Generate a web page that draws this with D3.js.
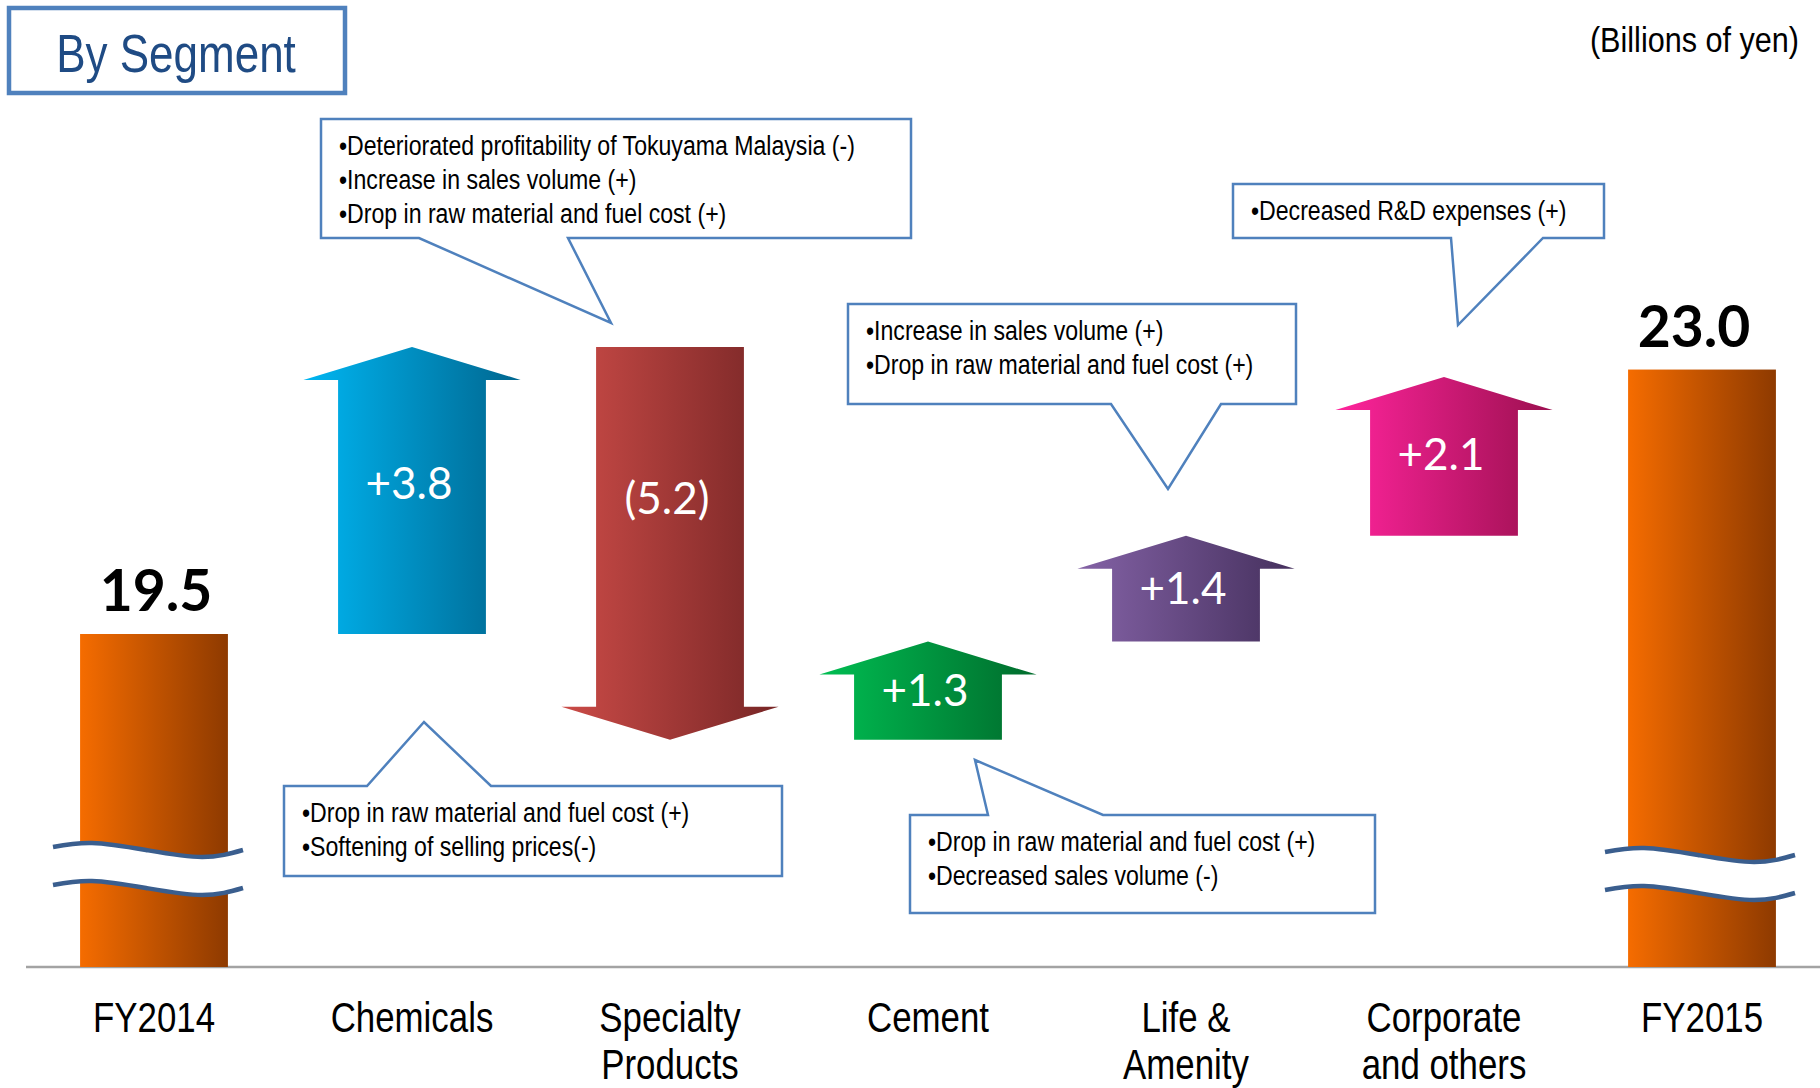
<!DOCTYPE html>
<html>
<head>
<meta charset="utf-8">
<script src="https://cdn.jsdelivr.net/npm/d3@7"></script>
<style>
  body { margin: 0; background: #fff; }
  .narrow { font-family: "Liberation Sans Narrow", "Arial Narrow", "Liberation Sans", Arial, sans-serif; }
  .calib { font-family: Lato, "Open Sans", sans-serif; }
</style>
</head>
<body>
<svg id="chart"></svg>
<script>
// Data
const categories = ['FY2014', 'Chemicals', 'Specialty Products', 'Cement', 'Life & Amenity', 'Corporate and others', 'FY2015'];
const categoryLines = [['FY2014'], ['Chemicals'], ['Specialty', 'Products'], ['Cement'], ['Life &', 'Amenity'], ['Corporate', 'and others'], ['FY2015']];
const startTotal = 19.5;
const endTotal = 23.0;
const deltas = [3.8, -5.2, 1.3, 1.4, 2.1];
const deltaLabels = ['+3.8', '(5.2)', '+1.3', '+1.4', '+2.1'];
const notes = [
    ['•Drop in raw material and fuel cost (+)', '•Softening of selling prices(-)'],
    ['•Deteriorated profitability of Tokuyama Malaysia (-)', '•Increase in sales volume (+)', '•Drop in raw material and fuel cost (+)'],
    ['•Drop in raw material and fuel cost (+)', '•Decreased sales volume (-)'],
    ['•Increase in sales volume (+)', '•Drop in raw material and fuel cost (+)'],
    ['•Decreased R&D expenses (+)']
];

// Styles
const arrowColors = [['#00B6F2', '#00668F'], ['#CB4B47', '#772626'], ['#00BE52', '#006B2C'], ['#8462A6', '#45305D'], ['#FF249C', '#9C1050']];
const totalColors = ['#F56C00', '#8E3A00'];

// Callout layout: box [x0, y0, x1, y1], pointer side, pointer base x's and tip
const calloutLayout = [
    { box: [284, 786, 782, 876], side: 'top', p: [367, 491], tip: [424, 722] },
    { box: [321, 119, 911, 238], side: 'bottom', p: [419, 568], tip: [611, 323] },
    { box: [910, 815, 1375, 913], side: 'top', p: [988, 1103], tip: [975, 760] },
    { box: [848, 304, 1296, 404], side: 'bottom', p: [1111, 1221], tip: [1168, 489] },
    { box: [1233, 184, 1604, 238], side: 'bottom', p: [1451, 1543], tip: [1458, 325] }
];

const width = 1820;
const height = 1088;
const baseY = 967;

const svg = d3.select('#chart')
    .attr('width', width)
    .attr('height', height);

const defs = svg.append('defs');

const x = d3.scalePoint().domain(categories).range([154, 1702]);
// broken axis: only the top of the range is drawn to scale
const y = d3.scaleLinear().domain([15, 24]).range([974, 294]);

const barW = x.step() * 0.573;
const headW = x.step() * 0.842;
const headH = 33;

// condensed text: the narrow font is not installed, so squeeze horizontally
function narrowText(parent, tx, sx, size) {
    return parent.append('g')
        .attr('transform', `translate(${tx},0) scale(${sx},1)`)
        .append('text')
        .attr('class', 'narrow')
        .attr('font-size', size);
}

// gradients
function addGradient(id, c) {
    const g = defs.append('linearGradient').attr('id', id)
        .attr('x1', 0).attr('x2', 1).attr('y1', 0).attr('y2', 0);
    g.append('stop').attr('offset', '0%').attr('stop-color', c[0]);
    g.append('stop').attr('offset', '100%').attr('stop-color', c[1]);
}
addGradient('g-total', totalColors);
arrowColors.forEach((c, i) => addGradient('g-arrow' + i, c));

// Build waterfall steps
let running = startTotal;
const steps = deltas.map((d, i) => {
    const s = { cat: categories[i + 1], start: running, end: running + d, label: deltaLabels[i], i: i };
    running += d;
    return s;
});

// Axis line
svg.append('line')
    .attr('x1', 26).attr('x2', width)
    .attr('y1', baseY).attr('y2', baseY)
    .attr('stroke', '#A3A3A3')
    .attr('stroke-width', 2.5);

// Total bars
const totals = [{ cat: categories[0], value: startTotal }, { cat: categories[6], value: endTotal }];
svg.selectAll('.total')
    .data(totals)
    .join('rect')
    .attr('class', 'total')
    .attr('x', d => x(d.cat) - barW / 2)
    .attr('width', barW)
    .attr('y', d => y(d.value))
    .attr('height', d => baseY - y(d.value))
    .attr('fill', 'url(#g-total)');

svg.selectAll('.total-label')
    .data(totals)
    .join('text')
    .attr('class', 'total-label calib')
    .attr('x', (d, i) => x(d.cat) + (i ? -8 : 2))
    .attr('y', d => y(d.value) - 23)
    .attr('text-anchor', 'middle')
    .attr('font-size', 57)
    .attr('font-weight', 'bold')
    .attr('fill', '#000')
    .text(d => d.value.toFixed(1));

// Break marks
const wave = [[-101, 0], [-62, -4], [-8, 3], [48, 10], [89, 3]];
const breakShift = [[0, 0], [4, 5]];
const breakTop = 847;
const breakGap = 38;
totals.forEach((d, i) => {
    const cx = x(d.cat) + breakShift[i][0];
    const top = breakTop + breakShift[i][1];
    const area = d3.area()
        .x(p => cx + p[0])
        .y0(p => top + p[1])
        .y1(p => top + breakGap + p[1])
        .curve(d3.curveNatural);
    svg.append('path').attr('d', area(wave)).attr('fill', '#fff');
    const line = d3.line().x(p => cx + p[0]).curve(d3.curveNatural);
    [0, breakGap].forEach(off => {
        svg.append('path')
            .attr('d', line.y(p => top + off + p[1])(wave))
            .attr('fill', 'none')
            .attr('stroke', '#3A5E8E')
            .attr('stroke-width', 4.5);
    });
});

// Arrows
function arrowPath(s) {
    const cx = x(s.cat), hs = barW / 2, hh = headW / 2;
    const y0 = y(s.start), y1 = y(s.end);
    const dir = s.end > s.start ? 1 : -1;
    const base = y1 + dir * headH;
    return `M${cx - hs},${y0} L${cx - hs},${base} L${cx - hh},${base} L${cx},${y1} L${cx + hh},${base} L${cx + hs},${base} L${cx + hs},${y0} Z`;
}

svg.selectAll('.arrow')
    .data(steps)
    .join('path')
    .attr('class', 'arrow')
    .attr('d', arrowPath)
    .attr('fill', d => `url(#g-arrow${d.i})`);

svg.selectAll('.arrow-label')
    .data(steps)
    .join('text')
    .attr('class', 'arrow-label calib')
    .attr('x', d => x(d.cat) - 3)
    .attr('y', d => {
        const y0 = y(d.start), y1 = y(d.end);
        const dir = d.end > d.start ? 1 : -1;
        const base = y1 + dir * headH;
        const len = Math.abs(y0 - base);
        return Math.min(y0, base) + 0.46 * len - 14;
    })
    .attr('dy', '0.36em')
    .attr('text-anchor', 'middle')
    .attr('font-size', 44)
    .attr('fill', '#fff')
    .text(d => d.label);

// Callouts
function calloutPath(c) {
    const [x0, y0, x1, y1] = c.box;
    if (c.side === 'bottom') {
        return `M${x0},${y0} H${x1} V${y1} H${c.p[1]} L${c.tip[0]},${c.tip[1]} L${c.p[0]},${y1} H${x0} Z`;
    }
    return `M${x0},${y0} H${c.p[0]} L${c.tip[0]},${c.tip[1]} L${c.p[1]},${y0} H${x1} V${y1} H${x0} Z`;
}

const callout = svg.selectAll('.callout')
    .data(calloutLayout.map((c, i) => ({ ...c, lines: notes[i] })))
    .join('g')
    .attr('class', 'callout');

callout.append('path')
    .attr('d', calloutPath)
    .attr('fill', '#fff')
    .attr('stroke', '#4F81BD')
    .attr('stroke-width', 2.5);

callout.each(function(c) {
    const t = narrowText(d3.select(this), c.box[0] + 18, 0.825, 28)
        .attr('fill', '#000');
    c.lines.forEach((ln, k) => {
        t.append('tspan')
            .attr('x', 0)
            .attr('y', c.box[1] + 36 + k * 34)
            .text(ln);
    });
});

// Category labels
categories.forEach((d, i) => {
    const t = narrowText(svg, x(d), 0.83, 42)
        .attr('text-anchor', 'middle')
        .attr('fill', '#000');
    categoryLines[i].forEach((ln, k) => {
        t.append('tspan')
            .attr('x', 0)
            .attr('y', 1032 + k * 47)
            .text(ln);
    });
});

// Title box
svg.append('rect')
    .attr('x', 9).attr('y', 8)
    .attr('width', 336).attr('height', 85)
    .attr('fill', '#fff')
    .attr('stroke', '#4F81BD')
    .attr('stroke-width', 4.5);
narrowText(svg, 176, 0.815, 54)
    .attr('x', 0).attr('y', 72)
    .attr('text-anchor', 'middle')
    .attr('fill', '#1F4B84')
    .text('By Segment');

narrowText(svg, 1799, 0.85, 36)
    .attr('x', 0).attr('y', 52)
    .attr('text-anchor', 'end')
    .attr('fill', '#000')
    .text('(Billions of yen)');
</script>
</body>
</html>
